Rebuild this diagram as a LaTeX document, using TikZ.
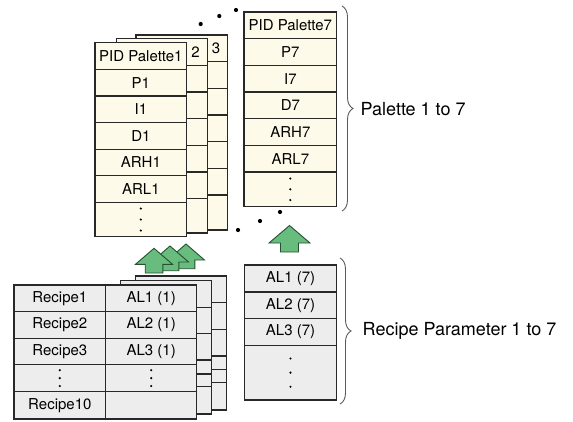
\documentclass[tikz,border=0pt]{standalone}
\usepackage{fontspec}
\setmainfont{TeX Gyre Heros}
\usetikzlibrary{decorations.pathreplacing}
\definecolor{cream}{RGB}{254,250,233}
\definecolor{cellgray}{RGB}{237,237,237}
\definecolor{agreen}{RGB}{104,188,126}
\definecolor{adark}{RGB}{38,80,50}
\definecolor{lineC}{RGB}{40,40,40}
\definecolor{braceC}{RGB}{90,90,90}
\tikzset{
  basecell/.style={draw=lineC, line width=1.2pt, inner sep=0pt, outer sep=0pt,
    anchor=north west, font=\fontsize{15}{17}\selectfont},
  pcell/.style={basecell, fill=cream},
  rcell/.style={basecell, fill=cellgray},
  uparrowshape/.style={draw=adark, fill=agreen, line width=0.9pt, line join=miter},
  bracestyle/.style={decorate, decoration={brace, amplitude=11pt}, draw=braceC, line width=0.9pt},
  lbl/.style={anchor=west, font=\fontsize{18}{20}\selectfont, inner sep=0pt},
  hdrnum/.style={font=\fontsize{15}{17}\selectfont, inner sep=0pt},
  smalldot/.style={fill=black},
  bigdot/.style={fill=black}
}
\newcommand{\mycell}[7]{\node[#1, minimum width=#5pt, minimum height=#6pt] (#2) at (#3,#4) {#7};}
\newcommand{\myarrow}[6]{% cx, tipy, halfhead, headh, halfstem, stemh
  \filldraw[uparrowshape] (#1,#2) -- ({#1+#3},{#2+#4}) -- ({#1+#5},{#2+#4}) -- ({#1+#5},{#2+#4+#6})
   -- ({#1-#5},{#2+#4+#6}) -- ({#1-#5},{#2+#4}) -- ({#1-#3},{#2+#4}) -- cycle;}
\begin{document}
\begin{tikzpicture}[x=1pt,y=-1pt]
\useasboundingbox (0,0) rectangle (573,421);

% ---- back palette table 3
\mycell{pcell}{pthreeh}{136}{35}{91.3}{26.7}{}
\foreach \i/\yy in {1/61.7,2/88.3,3/115,4/141.7,5/168.3}
  {\mycell{pcell}{pthree\i}{136}{\yy}{91.3}{26.7}{}}
\mycell{pcell}{pthreel}{136}{195}{91.3}{35}{}
\node[hdrnum] (pthreelbl) at (216,48.5) {3};

% ---- back palette table 2
\mycell{pcell}{ptwoh}{116.7}{38.7}{91}{26.7}{}
\foreach \i/\yy in {1/65.3,2/92,3/118.7,4/145.3,5/172}
  {\mycell{pcell}{ptwo\i}{116.7}{\yy}{91}{26.7}{}}
\mycell{pcell}{ptwol}{116.7}{198.7}{91}{34.3}{}
\node[hdrnum] (ptwolbl) at (195.5,52) {2};

% ---- front palette table 1
\mycell{pcell}{ponea}{95}{42.7}{91.7}{26.6}{PID Palette1}
\mycell{pcell}{poneb}{95}{69.3}{91.7}{26.6}{P1}
\mycell{pcell}{ponec}{95}{95.9}{91.7}{26.6}{I1}
\mycell{pcell}{poned}{95}{122.5}{91.7}{26.6}{D1}
\mycell{pcell}{ponee}{95}{149.1}{91.7}{26.6}{ARH1}
\mycell{pcell}{ponef}{95}{175.7}{91.7}{26.6}{ARL1}
\mycell{pcell}{poneg}{95}{202.3}{91.7}{34.4}{}
\foreach \yy in {208.5,219.5,230.5} \fill[smalldot] (140.8,\yy) circle (1.2pt);

% ---- palette 7
\mycell{pcell}{psevena}{244}{12}{92.7}{26.7}{PID Palette7}
\mycell{pcell}{psevenb}{244}{38.7}{92.7}{26.6}{P7}
\mycell{pcell}{psevenc}{244}{65.3}{92.7}{26.7}{I7}
\mycell{pcell}{psevend}{244}{92}{92.7}{26.7}{D7}
\mycell{pcell}{psevene}{244}{118.7}{92.7}{26.6}{ARH7}
\mycell{pcell}{psevenf}{244}{145.3}{92.7}{26.7}{ARL7}
\mycell{pcell}{pseveng}{244}{172}{92.7}{34.5}{}
\foreach \yy in {178.5,189.3,200} \fill[smalldot] (290.3,\yy) circle (1.2pt);

% ---- ellipsis dots between palettes
\foreach \xx/\yy in {200.7/24,219.3/16,236/10,238/230,260/221,280/212}
  \fill[bigdot] (\xx,\yy) circle (2.1pt);

% ---- green arrows (group)
\myarrow{186}{244}{18.5}{16}{8.8}{8.7}
\myarrow{170}{246}{18.5}{16}{8.8}{8.7}
\myarrow{154}{248.3}{18.5}{16}{8.8}{8.7}
% ---- single arrow
\myarrow{289.5}{225.5}{20.5}{17.5}{9}{9}

% ---- back recipe table 3
\foreach \i/\yy/\hh in {1/276/26.7,2/302.7/26.6,3/329.3/26.7,4/356/13.3,5/369.3/13.4,6/382.7/27.3}
  {\mycell{rcell}{rthree\i}{135.7}{\yy}{91}{\hh}{}}
% ---- back recipe table 2
\foreach \i/\yy/\hh in {1/280.3/27,2/307.3/26,3/333.3/26.7,4/360/14,5/374/12.7,6/386.7/27.3}
  {\mycell{rcell}{rtwo\i}{120.7}{\yy}{91}{\hh}{}}

% ---- front recipe table
\mycell{rcell}{rla}{14}{285}{91.7}{26.6}{Recipe1}
\mycell{rcell}{rlb}{14}{311.6}{91.7}{26.6}{Recipe2}
\mycell{rcell}{rlc}{14}{338.2}{91.7}{26.6}{Recipe3}
\mycell{rcell}{rld}{14}{364.8}{91.7}{26.6}{}
\mycell{rcell}{rle}{14}{391.4}{91.7}{27.6}{Recipe10}
\mycell{rcell}{rra}{105.7}{285}{91}{26.6}{AL1 (1)}
\mycell{rcell}{rrb}{105.7}{311.6}{91}{26.6}{AL2 (1)}
\mycell{rcell}{rrc}{105.7}{338.2}{91}{26.6}{AL3 (1)}
\mycell{rcell}{rrd}{105.7}{364.8}{91}{26.6}{}
\mycell{rcell}{rre}{105.7}{391.4}{91}{27.6}{}
\foreach \yy in {370.2,378.1,386} {\fill[smalldot] (59.8,\yy) circle (1.2pt); \fill[smalldot] (151.2,\yy) circle (1.2pt);}

% ---- recipe parameter 7
\mycell{rcell}{rsa}{244.3}{265}{92.4}{27}{AL1 (7)}
\mycell{rcell}{rsb}{244.3}{292}{92.4}{26.7}{AL2 (7)}
\mycell{rcell}{rsc}{244.3}{318.7}{92.4}{26.6}{AL3 (7)}
\mycell{rcell}{rsd}{244.3}{345.3}{92.4}{54.7}{}
\foreach \yy in {358.5,372.6,386.7} \fill[smalldot] (290.5,\yy) circle (1.2pt);

% ---- braces and labels
\coordinate (bpa) at (342,6);
\coordinate (bpb) at (342,211);
\draw[bracestyle] (bpa) -- (bpb);
\node[lbl] (pallbl) at (360.5,109) {Palette 1 to 7};
\coordinate (bra) at (340,258);
\coordinate (brb) at (340,404);
\draw[bracestyle] (bra) -- (brb);
\node[lbl] (reclbl) at (362.5,330.5) {Recipe Parameter 1 to 7};
\end{tikzpicture}
\end{document}
